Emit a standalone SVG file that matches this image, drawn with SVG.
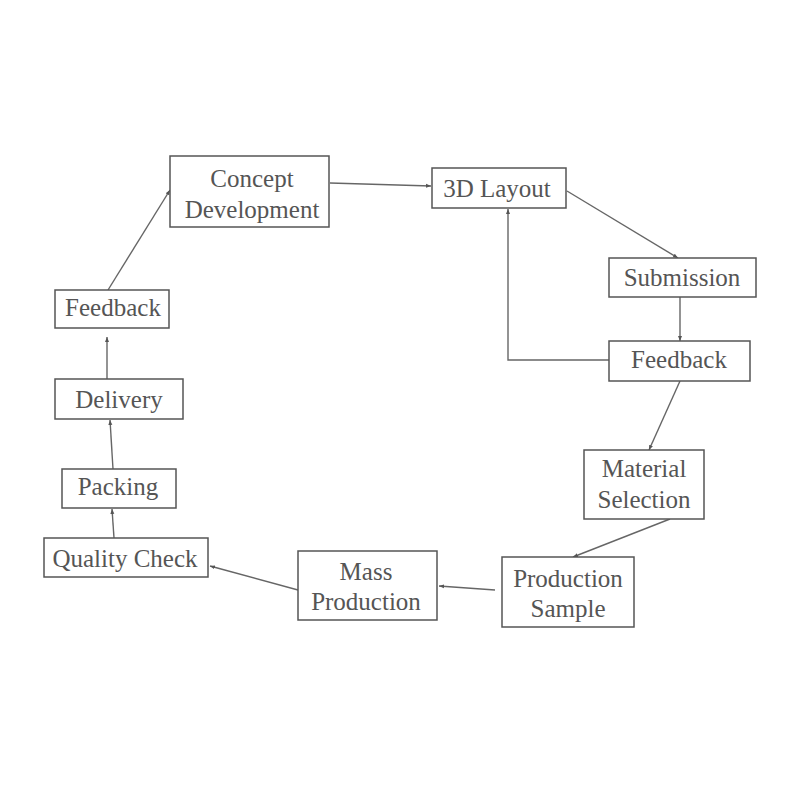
<svg xmlns="http://www.w3.org/2000/svg" width="800" height="800" viewBox="0 0 800 800">
<defs>
<marker id="ah" viewBox="0 0 10 10" refX="10" refY="5" markerWidth="5" markerHeight="5" orient="auto" markerUnits="userSpaceOnUse">
<path d="M0,1 L10,5 L0,9 z" fill="#555"/>
</marker>
<style>
.box{fill:#fff;stroke:#555;stroke-width:1.5}
.t{font-family:"Liberation Serif","Times New Roman",serif;font-size:25px;fill:#555;text-anchor:middle}
.c{fill:none;stroke:#666;stroke-width:1.4;marker-end:url(#ah)}
</style>
</defs>
<rect width="800" height="800" fill="#fff"/>
<g id="connectors">
<path class="c" d="M330,183 L431,186"/>
<path class="c" d="M567,191 L678,258"/>
<path class="c" d="M680,297 L680,341"/>
<path class="c" d="M609,360 L508,360 L508,209"/>
<path class="c" d="M680,381 L649,450"/>
<path class="c" d="M670,519 L573,557"/>
<path class="c" d="M495,590 L439,586"/>
<path class="c" d="M298,590 L210,566"/>
<path class="c" d="M114,538 L112,509"/>
<path class="c" d="M113,469 L110,420"/>
<path class="c" d="M107,379 L107,337"/>
<path class="c" d="M108,290 L170,190"/>
</g>
<g id="concept"><rect class="box" x="170" y="156" width="159" height="71"/><text class="t" x="252" y="187">Concept</text><text class="t" x="252" y="218">Development</text></g>
<g id="layout3d"><rect class="box" x="432" y="168" width="134" height="40"/><text class="t" x="497" y="197">3D Layout</text></g>
<g id="submission"><rect class="box" x="609" y="258" width="147" height="39"/><text class="t" x="682" y="286">Submission</text></g>
<g id="feedback1"><rect class="box" x="609" y="341" width="141" height="40"/><text class="t" x="679" y="368">Feedback</text></g>
<g id="material"><rect class="box" x="584" y="450" width="120" height="69"/><text class="t" x="644" y="477">Material</text><text class="t" x="644" y="508">Selection</text></g>
<g id="sample"><rect class="box" x="502" y="557" width="132" height="70"/><text class="t" x="568" y="587">Production</text><text class="t" x="568" y="617">Sample</text></g>
<g id="mass"><rect class="box" x="298" y="551" width="139" height="69"/><text class="t" x="366" y="580">Mass</text><text class="t" x="366" y="610">Production</text></g>
<g id="quality"><rect class="box" x="44" y="538" width="164" height="39"/><text class="t" x="125" y="567">Quality Check</text></g>
<g id="packing"><rect class="box" x="62" y="469" width="114" height="39"/><text class="t" x="118" y="495">Packing</text></g>
<g id="delivery"><rect class="box" x="55" y="379" width="128" height="40"/><text class="t" x="119" y="408">Delivery</text></g>
<g id="feedback2"><rect class="box" x="55" y="290" width="114" height="38"/><text class="t" x="113" y="316">Feedback</text></g>
</svg>
